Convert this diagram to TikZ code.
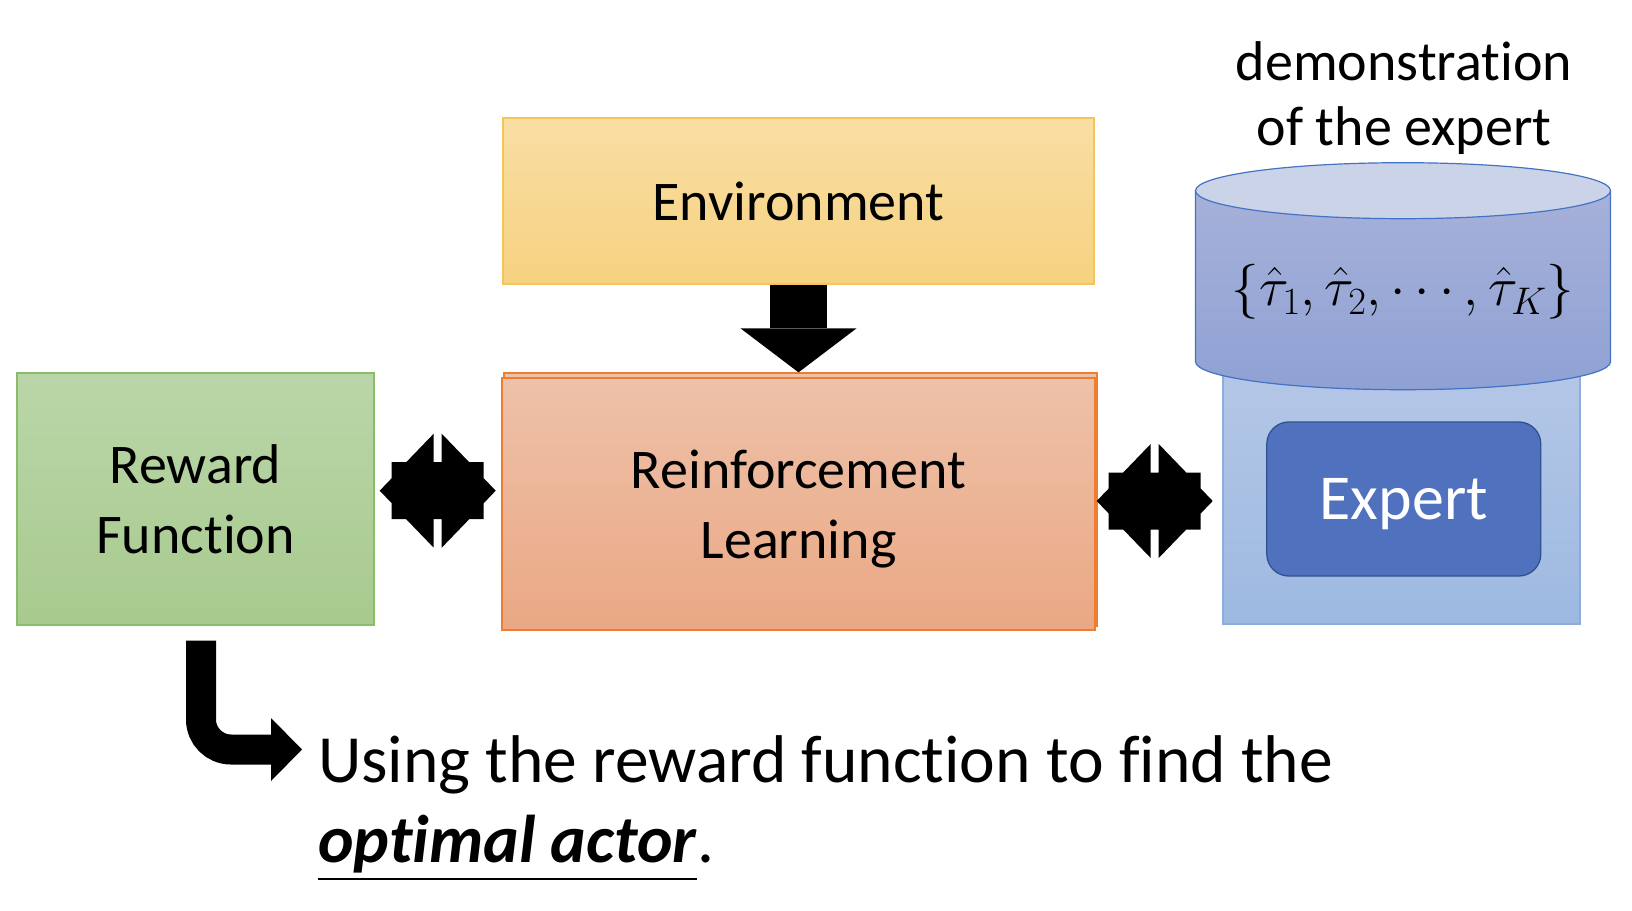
\documentclass[tikz,border=0pt]{standalone}
\usepackage{fix-cm}
\usepackage{fontspec}
\setmainfont{Carlito}[Ligatures=NoCommon]
\usetikzlibrary{arrows.meta}

\definecolor{envtop}{HTML}{F9DEA4}
\definecolor{envbot}{HTML}{F6D280}
\definecolor{envline}{HTML}{F4C55A}
\definecolor{rftop}{HTML}{BAD6A9}
\definecolor{rfbot}{HTML}{A8CA8E}
\definecolor{rfline}{HTML}{8ABC69}
\definecolor{rltop}{HTML}{EEC1A9}
\definecolor{rlbot}{HTML}{EAA884}
\definecolor{rlline}{HTML}{ED7D31}
\definecolor{cyltop}{HTML}{CBD3E9}
\definecolor{cylmid}{HTML}{A6B1D9}
\definecolor{cylbot}{HTML}{8FA1D4}
\definecolor{cylline}{HTML}{4472C4}
\definecolor{holdtop}{HTML}{B5C7E7}
\definecolor{holdbot}{HTML}{9DB9E1}
\definecolor{holdline}{HTML}{8FAADC}
\definecolor{expfill}{HTML}{5072BE}
\definecolor{expline}{HTML}{2F528F}

\newcommand{\thickul}[1]{\vtop{\hbox{#1}\kern5pt\hrule height 2pt}}

\tikzset{
  box/.style={draw, line width=1.3pt, inner sep=0pt, align=center, text depth=0pt, font=\fontsize{56}{70}\selectfont},
  envbox/.style={box, draw=envline, top color=envtop, bottom color=envbot},
  rlbox/.style={box, draw=rlline, top color=rltop, bottom color=rlbot},
  rewardbox/.style={box, draw=rfline, top color=rftop, bottom color=rfbot},
  holder/.style={box, draw=holdline, top color=holdtop, bottom color=holdbot},
  expertbox/.style={box, draw=expline, fill=expfill, rounded corners=22pt, text=white, font=\fontsize{64}{76}\selectfont},
  caption/.style={inner sep=0pt, align=center, text depth=0pt, font=\fontsize{56}{65}\selectfont},
  bigarrow/.style={line width=57pt, -{Triangle[width=116pt,length=44pt,line width=0pt]}},
  bentarrow/.style={line width=30pt, rounded corners=30pt, -{Triangle[width=63pt,length=31pt,line width=0pt]}},
  twoway/.pic={
    \fill (-4,-57) -- (-4,-28.5) -- (4,-28.5) -- (4,-57) -- (31.5,-28.5) -- (46,-28.5) -- (46,-12.5) -- (58,0)
      -- (46,12.5) -- (46,28.5) -- (31.5,28.5) -- (4,57) -- (4,28.5) -- (-4,28.5) -- (-4,57) -- (-31.5,28.5)
      -- (-46,28.5) -- (-46,12.5) -- (-58,0) -- (-46,-12.5) -- (-46,-28.5) -- (-31.5,-28.5) -- cycle;
  }
}

\begin{document}
\begin{tikzpicture}[x=1pt, y=-1pt]
  \path[use as bounding box, fill=white] (0,0) rectangle (1632,910);

  % boxes
  \node[envbox, minimum width=591pt, minimum height=166pt] (env) at (798.5,201) {Environment};
  \node[rewardbox, minimum width=357pt, minimum height=252pt] (rf) at (195.5,499) {Reward\\Function};
  \node[rlbox, minimum width=593pt, minimum height=253pt] (rlback) at (800.5,499.5) {};
  \node[rlbox, minimum width=593pt, minimum height=252pt] (rl) at (798.5,504) {Reinforcement\\Learning};

  % expert side
  \node[holder, minimum width=357pt, minimum height=264pt] (hold) at (1401.5,492) {};
  \filldraw[draw=cylline, line width=1.2pt, top color=cylmid, bottom color=cylbot]
    (1195.5,190.7) -- (1195.5,361.7) arc[start angle=180, end angle=0, x radius=207.5, y radius=28]
    -- (1610.5,190.7) -- cycle;
  \filldraw[draw=cylline, line width=1.2pt, fill=cyltop] (1403,190.7) ellipse [x radius=207.5, y radius=28];
  \node[inner sep=0pt, font=\fontsize{55}{66}\selectfont] (demo) at (1403,292)
    {$\{\hat\tau_1,\hat\tau_2,\cdots,\hat\tau_K\}$};
  \node[expertbox, minimum width=274pt, minimum height=154pt] (expert) at (1403.8,499) {Expert};
  \node[caption] (demolabel) at (1404,93.7) {demonstration\\of the expert};

  % arrows
  \draw[bigarrow] (env.south) -- (env.south |- rlback.north);
  \pic at (437.7,490.7) {twoway};
  \pic at (1154.7,501) {twoway};

  \node[inner sep=0pt, anchor=north west, align=left, font=\fontsize{67.5}{80}\selectfont] (usetext) at (318,735)
    {Using the reward function to find the\\\thickul{\textbf{\textit{optimal actor}}}.};
  \coordinate (bendtip) at (302,749.5);
  \draw[bentarrow] ([xshift=5.5pt,yshift=-15pt]rf.south) |- (bendtip);
\end{tikzpicture}
\end{document}
